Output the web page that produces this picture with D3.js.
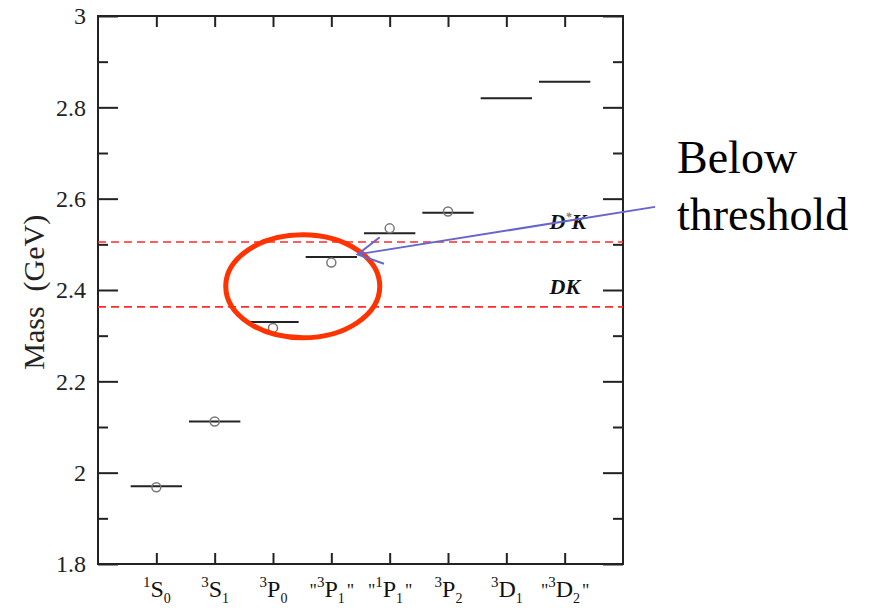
<!DOCTYPE html>
<html>
<head>
<meta charset="utf-8">
<script src="https://cdn.jsdelivr.net/npm/d3@7"></script>
<style>
  body { margin: 0; background: #fff; }
  svg { display: block; }
</style>
</head>
<body>
<div class="canvas"></div>
<script>
// data
const states      = [1, 2, 3, 4, 5, 6, 7, 8];
const labelSup    = ['1', '3', '3', '3', '1', '3', '3', '3'];
const labelLetter = ['S', 'S', 'P', 'P', 'P', 'P', 'D', 'D'];
const labelSub    = ['0', '1', '0', '1', '1', '2', '1', '2'];
const labelQuoted = [false, false, false, true, true, false, false, true];
const modelMass   = [1.970, 2.112, 2.330, 2.472, 2.524, 2.569, 2.820, 2.856];
const exptMass    = [1.968, 2.112, 2.317, 2.460, 2.535, 2.572, null, null];
const thresholds  = [{name: 'DK', star: false, mass: 2.363}, {name: 'D*K', star: true, mass: 2.505}];
const majorTicks  = [1.8, 2.0, 2.2, 2.4, 2.6, 2.8, 3.0];
const minorTicks  = [1.9, 2.1, 2.3, 2.5, 2.7, 2.9];

// margins
const margin = {top: 16, right: 247, bottom: 44, left: 98};
const width = 870, height = 608;
const graphWidth = width - margin.left - margin.right;
const graphHeight = height - margin.top - margin.bottom;
const serif = '"Liberation Serif", "Times New Roman", serif';

const svg = d3.select('.canvas').append('svg')
    .attr('width', width)
    .attr('height', height)
    .style('font-family', serif);

const graph = svg.append('g')
    .attr('transform', `translate(${margin.left}, ${margin.top})`);

// scales
const x = d3.scaleLinear().domain([0, 9]).range([0, graphWidth]);
const y = d3.scaleLinear().domain([1.8, 3.0]).range([graphHeight, 0]);

// axes, all ticks pointing inward
const styleAxis = g => {
    g.attr('font-family', serif);
    g.select('.domain').remove();
    g.selectAll('.tick line').attr('stroke', '#222').attr('stroke-width', 2);
};

graph.append('g')
    .attr('transform', `translate(0, ${graphHeight})`)
    .call(d3.axisBottom(x).tickValues(states).tickSize(-11).tickFormat(''))
    .call(styleAxis)
    .call(g => g.selectAll('.tick text').remove())
    .call(g => {
        const t = g.selectAll('.tick').append('text')
            .attr('y', 33)
            .attr('text-anchor', 'middle')
            .attr('fill', '#111')
            .style('font-family', serif)
            .style('font-size', '24px');
        t.each(function(d) {
            const i = d - 1;
            const el = d3.select(this);
            if (labelQuoted[i]) el.append('tspan').text('"').style('font-size', '18px');
            el.append('tspan').text(labelSup[i]).attr('dy', -10).style('font-size', '15px');
            el.append('tspan').text(labelLetter[i]).attr('dy', 10);
            el.append('tspan').text(labelSub[i]).attr('dy', 6).style('font-size', '14px');
            if (labelQuoted[i]) el.append('tspan').text('"').attr('dy', -6).attr('dx', 2).style('font-size', '18px');
        });
    });

graph.append('g')
    .call(d3.axisTop(x).tickValues(states).tickSize(-11).tickFormat(''))
    .call(styleAxis);

graph.append('g')
    .call(d3.axisLeft(y).tickValues(majorTicks).tickSize(-20).tickPadding(12).tickFormat(d3.format('~g')))
    .call(styleAxis)
    .call(g => g.selectAll('.tick text')
        .attr('fill', '#222')
        .style('font-family', serif)
        .style('font-size', '24px'));

graph.append('g')
    .call(d3.axisLeft(y).tickValues(minorTicks).tickSize(-10).tickFormat(''))
    .call(styleAxis);

graph.append('g')
    .attr('transform', `translate(${graphWidth}, 0)`)
    .call(d3.axisRight(y).tickValues(majorTicks).tickSize(-20).tickFormat(''))
    .call(styleAxis);

graph.append('g')
    .attr('transform', `translate(${graphWidth}, 0)`)
    .call(d3.axisRight(y).tickValues(minorTicks).tickSize(-10).tickFormat(''))
    .call(styleAxis);

// frame
graph.append('rect')
    .attr('width', graphWidth)
    .attr('height', graphHeight)
    .attr('fill', 'none')
    .attr('stroke', '#222')
    .attr('stroke-width', 2);

// y label
svg.append('text')
    .attr('transform', `translate(44, ${margin.top + y(2.395)}) rotate(-90)`)
    .attr('text-anchor', 'middle')
    .attr('fill', '#222')
    .style('font-family', serif)
    .style('font-size', '30px')
    .style('white-space', 'pre')
    .text('Mass  (GeV)');

// thresholds
graph.selectAll('.thr').data(thresholds).enter().append('line')
    .attr('x1', x(0)).attr('x2', x(9))
    .attr('y1', d => y(d.mass)).attr('y2', d => y(d.mass))
    .attr('stroke', '#ff2a2a')
    .attr('stroke-width', 1.6)
    .attr('stroke-dasharray', '8,5');

const thrLabel = graph.selectAll('.thrlab').data(thresholds).enter().append('text')
    .attr('x', x(7.74))
    .attr('y', d => y(d.mass) - 13)
    .attr('fill', '#111')
    .style('font-family', serif)
    .style('font-size', '22px')
    .style('font-weight', 'bold')
    .style('font-style', 'italic');
thrLabel.each(function(d) {
    const el = d3.select(this);
    el.append('tspan').text('D');
    if (d.star) {
        el.append('tspan').text('*').attr('dy', -8).attr('fill', '#777').style('font-size', '12px');
        el.append('tspan').text('K').attr('dy', 8);
    } else {
        el.append('tspan').text('K');
    }
});

// model levels
const half = 0.44;
graph.selectAll('.level').data(modelMass).enter().append('line')
    .attr('x1', (d, i) => x(states[i] - half))
    .attr('x2', (d, i) => x(states[i] + half))
    .attr('y1', d => y(d)).attr('y2', d => y(d))
    .attr('stroke', '#222')
    .attr('stroke-width', 2);

// experimental points
graph.selectAll('.expt').data(exptMass.map((m, i) => ({m, s: states[i]})).filter(d => d.m !== null))
    .enter().append('circle')
    .attr('cx', d => x(d.s))
    .attr('cy', d => y(d.m))
    .attr('r', 4.5)
    .attr('fill', 'none')
    .attr('stroke', '#777')
    .attr('stroke-width', 1.5);

// annotation: ellipse round the states near threshold
graph.append('ellipse')
    .attr('cx', x(3.51))
    .attr('cy', y(2.408))
    .attr('rx', 77)
    .attr('ry', 51.5)
    .attr('fill', 'none')
    .attr('stroke', '#ff3300')
    .attr('stroke-width', 5);

// annotation arrow
const from = [x(9.55), y(2.582)];
const tip = [x(4.45), y(2.478)];
const ang = Math.atan2(from[1] - tip[1], from[0] - tip[0]);
const headLen = 28, headAng = 0.5;
graph.append('path')
    .attr('d', `M${from[0]},${from[1]}L${tip[0]},${tip[1]}`
        + `M${tip[0] + headLen * Math.cos(ang - headAng)},${tip[1] + headLen * Math.sin(ang - headAng)}`
        + `L${tip[0]},${tip[1]}`
        + `L${tip[0] + headLen * Math.cos(ang + headAng)},${tip[1] + headLen * Math.sin(ang + headAng)}`)
    .attr('fill', 'none')
    .attr('stroke', '#6666cc')
    .attr('stroke-width', 2);

// annotation text
const note = svg.append('text')
    .attr('fill', '#000')
    .style('font-family', serif)
    .style('font-size', '46px');
note.append('tspan').attr('x', 677).attr('y', 173).text('Below');
note.append('tspan').attr('x', 677).attr('y', 230).text('threshold');
</script>
</body>
</html>
